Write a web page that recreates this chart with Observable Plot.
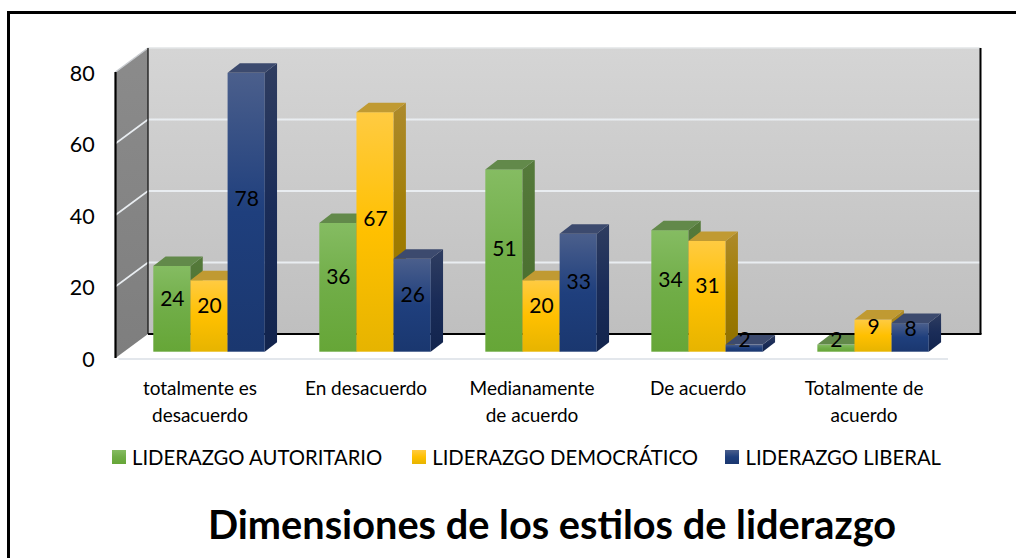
<!DOCTYPE html>
<html lang="es">
<head>
<meta charset="utf-8">
<script src="https://cdn.jsdelivr.net/npm/d3@7"></script>
<script src="https://cdn.jsdelivr.net/npm/@observablehq/plot@0.6"></script>
<style>
  html, body { margin: 0; padding: 0; background: #fff; }
  #page { position: relative; width: 1016px; height: 558px; overflow: hidden; font-family: Lato, sans-serif; color: #000; }
  #frameLeft { position: absolute; left: 7px; top: 11px; width: 3px; bottom: 0; background: #000; }
  #frameTop { position: absolute; left: 7px; top: 11px; right: 0; height: 3px; background: #000; }
  #chart { position: absolute; left: 0; top: 0; }
  #legend { position: absolute; left: 112px; top: 444px; height: 26px; display: flex; align-items: center; font-size: 20.3px; white-space: nowrap; }
  #legend .item { display: flex; align-items: center; }
  #legend .sw { width: 14px; height: 14px; margin-right: 6px; }
  #title { position: absolute; left: 100px; width: 904px; top: 500px; text-align: center; font-size: 39.7px; font-weight: 700; line-height: 48px; margin: 0; }
</style>
</head>
<body>
<div id="page">
  <div id="chart"></div>
  <div id="frameLeft"></div>
  <div id="frameTop"></div>
  <div id="legend"></div>
  <h1 id="title"></h1>
</div>
<script>
const titleText = "Dimensiones de los estilos de liderazgo";
const categories = ["totalmente es\ndesacuerdo", "En desacuerdo", "Medianamente\nde acuerdo", "De acuerdo", "Totalmente de\nacuerdo"];
const seriesNames = ["LIDERAZGO AUTORITARIO", "LIDERAZGO DEMOCRÁTICO", "LIDERAZGO LIBERAL"];
const autoritario = [24, 36, 51, 34, 2];
const democratico = [20, 67, 20, 31, 9];
const liberal = [78, 26, 33, 2, 8];
const yTicks = [0, 20, 40, 60, 80];

const frontStops = [["#85bc62", "#70ad47", "#66a637"], ["#ffcb42", "#ffc000", "#e6b400"], ["#4b5f8c", "#1f3f7d", "#1a376f"]];
const sideStops = [["#557a3b", "#4d7232", "#456a2c"], ["#ad8a2c", "#a07c00", "#8f7000"], ["#2f3d60", "#1a2c58", "#12244d"]];
const topColors = ["#62894a", "#c09a32", "#3c4a6e"];
const depthBar = {dx: 12.3, dy: -9.5};
const depthWall = {dx: 32.5, dy: -24};
const barLift = -6.3;
const marginLeft = 115.5, marginRight = 68, plotWidth = 1016;

const rows = [autoritario, democratico, liberal].flatMap((vals, s) =>
  vals.map((value, i) => ({category: categories[i], series: seriesNames[s], s, value})));

const svgNS = "http://www.w3.org/2000/svg";
function poly(parent, points, fill, stroke, strokeWidth) {
  const p = document.createElementNS(svgNS, "polygon");
  p.setAttribute("points", points.map(q => q.join(",")).join(" "));
  p.setAttribute("fill", fill);
  p.setAttribute("stroke", stroke || "none");
  if (strokeWidth) p.setAttribute("stroke-width", strokeWidth);
  parent.appendChild(p);
}
function seg(parent, a, b, stroke, width) {
  const l = document.createElementNS(svgNS, "line");
  l.setAttribute("x1", a[0]); l.setAttribute("y1", a[1]);
  l.setAttribute("x2", b[0]); l.setAttribute("y2", b[1]);
  l.setAttribute("stroke", stroke); l.setAttribute("stroke-width", width);
  parent.appendChild(l);
}

function walls(index, scales) {
  const g = document.createElementNS(svgNS, "g");
  const L = marginLeft, R = plotWidth - marginRight;
  const yT = scales.y(80), yB = scales.y(0);
  const {dx, dy} = depthWall;
  poly(g, [[L + dx, yT + dy], [R + dx, yT + dy], [R + dx, yB + dy], [L + dx, yB + dy]], "url(#wallBack)");
  poly(g, [[L, yT], [L + dx, yT + dy], [L + dx, yB + dy], [L, yB]], "url(#wallLeft)");
  for (const t of yTicks.slice(1, -1)) {
    seg(g, [L, scales.y(t)], [L + dx, scales.y(t) + dy], "#e9edf1", 1.6);
    seg(g, [L + dx, scales.y(t) + dy], [R + dx, scales.y(t) + dy], "#e9edf1", 2);
  }
  seg(g, [L, yT], [L + dx, yT + dy], "#c9ccd0", 1.5);
  seg(g, [L + dx, yT + dy], [R + dx, yT + dy], "#e2e4e6", 1.5);
  seg(g, [L + dx, yT + dy], [L + dx, yB + dy], "#222", 1.4);
  seg(g, [L + dx, yB + dy], [R + dx + 1, yB + dy], "#000", 2);
  seg(g, [R + dx, yT + dy], [R + dx, yB + dy], "#000", 2);
  seg(g, [L, yT], [L, yB], "#000", 2.2);
  seg(g, [L + 3, yB + 1], [R, yB + 1], "#e3e7ec", 2.2);
  return g;
}

function boxMark(s) {
  return Plot.barY(rows.filter(d => d.s === s), {
    fx: "category", x: "series", y: "value", dy: barLift,
    fill: `url(#front${s})`,
    render(index, scales, values, dimensions, context, next) {
      const g = next(index, scales, values, dimensions, context);
      const w = scales.x.bandwidth();
      const {dx, dy} = depthBar;
      for (const i of index) {
        const x0 = values.x[i], x1 = x0 + w;
        const yt = Math.min(values.y1[i], values.y2[i]), yb = Math.max(values.y1[i], values.y2[i]);
        poly(g, [[x1, yt], [x1 + dx, yt + dy], [x1 + dx, yb + dy], [x1, yb]], `url(#side${s})`);
        poly(g, [[x0, yt], [x0 + dx, yt + dy], [x1 + dx, yt + dy], [x1, yt]], topColors[s]);
      }
      return g;
    }
  });
}

const chart = Plot.plot({
  width: plotWidth, height: 440,
  marginLeft, marginRight, marginTop: 72, marginBottom: 82,
  style: {fontFamily: "Lato, sans-serif", background: "transparent", color: "#000"},
  x: {domain: seriesNames, padding: 0, round: false, axis: null},
  fx: {domain: categories, padding: 0.3287, paddingOuter: 0.1717, align: 0.663, round: false, axis: null},
  y: {domain: [0, 80], axis: null},
  marks: [
    Plot.frame({facet: "super", stroke: "none", render: walls}),
    boxMark(0), boxMark(1), boxMark(2),
    Plot.text(rows, {fx: "category", x: "series", y: d => d.value * 0.52, text: d => String(d.value), dy: barLift - 8.3, fontSize: 21, fill: "#000"}),
    Plot.axisY({ticks: yTicks, tickSize: 0, tickPadding: 59, fontSize: 21.5, label: null, fill: "#000", dy: 1.5}),
    Plot.axisFx({anchor: "bottom", tickSize: 0, tickPadding: 17, fontSize: 19, lineHeight: 1.42, label: null, fill: "#000", dx: -9.5})
  ]
});

const defs = d3.select(chart).insert("defs", ":first-child");
function gradient(id, stops) {
  const g = defs.append("linearGradient").attr("id", id).attr("x1", 0).attr("y1", 0).attr("x2", 0).attr("y2", 1);
  stops.forEach((c, i) => g.append("stop").attr("offset", i / (stops.length - 1)).attr("stop-color", c));
}
frontStops.forEach((st, s) => gradient(`front${s}`, st));
sideStops.forEach((st, s) => gradient(`side${s}`, st));
gradient("wallBack", ["#d5d5d5", "#bfbfbf"]);
gradient("wallLeft", ["#8b8b8b", "#7e7e7e"]);
document.getElementById("chart").appendChild(chart);

const gaps = [30, 27.5, 0];
const legend = d3.select("#legend");
seriesNames.forEach((name, s) => {
  const item = legend.append("div").attr("class", "item").style("margin-right", gaps[s] + "px");
  item.append("span").attr("class", "sw").style("background", `linear-gradient(${frontStops[s].join(",")})`);
  item.append("span").text(name);
});
document.getElementById("title").textContent = titleText;
</script>
</body>
</html>
